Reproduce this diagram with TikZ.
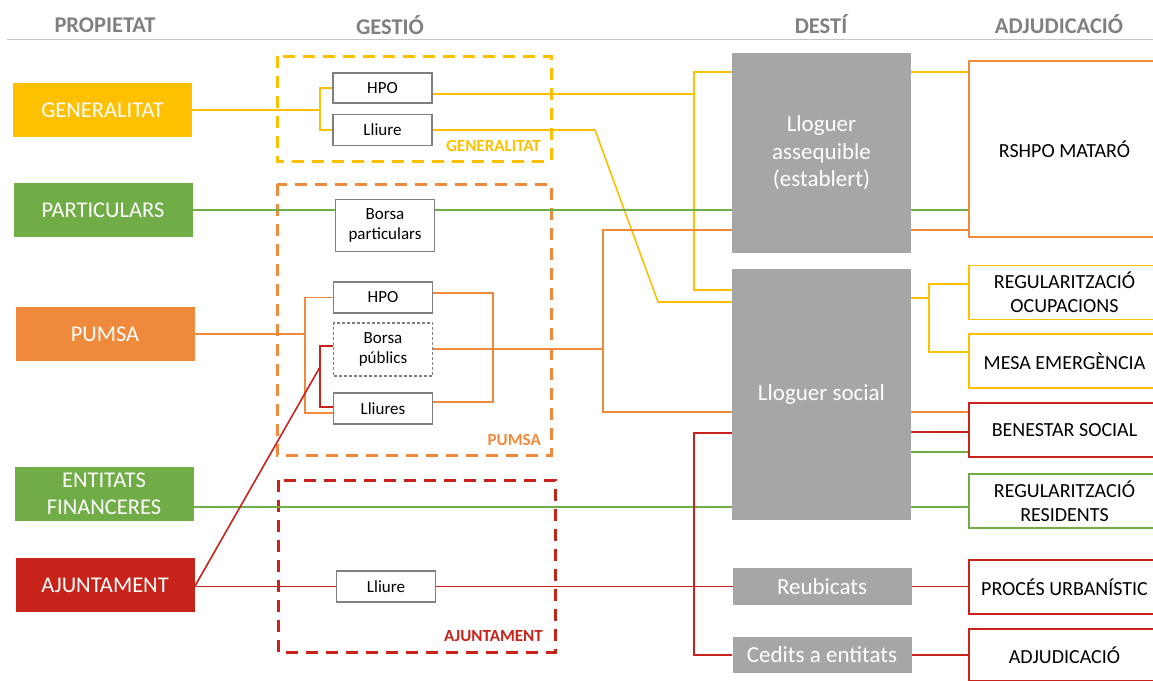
\documentclass[tikz,border=0pt]{standalone}
\usepackage{fontspec}
\setmainfont{Carlito}
\usetikzlibrary{backgrounds}
\definecolor{cgold}{HTML}{FFC000}
\definecolor{cgreen}{HTML}{70AD47}
\definecolor{corange}{HTML}{EF8A3C}
\definecolor{cred}{HTML}{C8231B}
\definecolor{destgray}{HTML}{A6A6A6}
\definecolor{boxgray}{HTML}{7F7F7F}
\definecolor{hdrgray}{HTML}{808080}
\definecolor{rulegray}{HTML}{C4C4C4}
\begin{document}
\begin{tikzpicture}[x=1pt,y=-1pt,
  hdr/.style={text=hdrgray, font=\bfseries\fontsize{22.5}{26}\selectfont, inner sep=0},
  src/.style={fill=#1, text=white, minimum width=179pt, minimum height=54pt, inner sep=0,
    font=\fontsize{22.5}{27}\selectfont, align=center},
  gbox/.style={draw=boxgray, line width=1.2pt, fill=white, minimum width=99pt,
    minimum height=31pt, inner sep=0, font=\fontsize{17}{20}\selectfont, align=center},
  dest/.style={fill=destgray, text=white, minimum width=179pt, inner sep=0,
    font=\fontsize{23}{27.5}\selectfont, align=center},
  adj/.style={draw=#1, line width=1.8pt, fill=white, minimum width=191pt,
    minimum height=54pt, inner sep=0, font=\fontsize{20}{24}\selectfont, align=center},
  grp/.style={draw=#1, line width=3pt, dash pattern=on 12pt off 8pt},
  grplabel/.style={text=#1, font=\bfseries\fontsize{17}{19}\selectfont, anchor=east, inner sep=0},
  conn/.style={draw=#1, line width=1.6pt}]
\useasboundingbox (0,0) rectangle (1153,680);
\clip (0,0) rectangle (1153,680);

% column headers
\node[hdr] (h1) at (105,25) {PROPIETAT};
\node[hdr] (h2) at (390,25) {GESTIÓ};
\node[hdr] (h3) at (821,24) {DESTÍ};
\node[hdr] (h4) at (1059,24) {ADJUDICACIÓ};
\coordinate (rl) at (7,39.5);
\coordinate (rr) at (1153,39.5);
\draw[rulegray, line width=1pt] (rl) -- (rr);

% owners
\node[src=cgold] (gen) at (102.5,110) {GENERALITAT};
\node[src=cgreen] (part) at (103,210) {PARTICULARS};
\node[src=corange] (pumsa) at (105,334) {PUMSA};
\node[src=cgreen] (ent) at (104,493.5) {ENTITATS\\FINANCERES};
\node[src=cred] (ajun) at (105,585) {AJUNTAMENT};

% management
\node[gbox, minimum height=30pt] (ghpo) at (382.5,88) {HPO};
\node[gbox] (glli) at (382.5,130) {Lliure};
\node[gbox, minimum height=52pt] (bpart) at (385,225.5) {Borsa\\particulars};
\node[gbox] (phpo) at (383,297.5) {HPO};
\node[gbox, minimum height=53pt, dash pattern=on 3pt off 2pt] (pbor) at (383,349.5) {Borsa\\públics};
\node[gbox] (plli) at (383,408.5) {Lliures};
\node[gbox] (alli) at (386,586.5) {Lliure};

% group labels
\node[grplabel=cgold] (lgen) at (541,146) {GENERALITAT};
\node[grplabel=corange] (lpum) at (541,440) {PUMSA};
\node[grplabel=cred] (laju) at (543,636) {AJUNTAMENT};

% destinations
\node[dest, minimum height=200pt] (lass) at (821.5,153) {Lloguer\\assequible\\(establert)};
\node[dest, minimum height=251pt] (lsoc) at (821.5,394.5) {Lloguer social};
\node[dest, minimum height=37pt] (reub) at (822,586.5) {Reubicats};
\node[dest, minimum height=36pt] (cedi) at (822,655) {Cedits a entitats};

% allocation
\node[adj=corange, minimum height=176pt] (rshpo) at (1064.5,149) {RSHPO MATARÓ};
\node[adj=cgold] (rocup) at (1064.5,292.5) {REGULARITZACIÓ\\OCUPACIONS};
\node[adj=cgold] (rmesa) at (1064.5,361) {MESA EMERGÈNCIA};
\node[adj=cred] (rbene) at (1064.5,430) {BENESTAR SOCIAL};
\node[adj=cgreen] (rresi) at (1064.5,501) {REGULARITZACIÓ\\RESIDENTS};
\node[adj=cred] (rproc) at (1064.5,587) {PROCÉS URBANÍSTIC};
\node[adj=cred, minimum height=52pt] (radj) at (1064.5,655) {ADJUDICACIÓ};

% junction points
\coordinate (jg) at (320,110);
\coordinate (jy) at (694,94);
\coordinate (jyt) at (694,72);
\coordinate (jyb) at (694,290);
\coordinate (ka) at (595,130);
\coordinate (kb) at (658,302);
\coordinate (jr) at (929,298);
\coordinate (jrt) at (929,284);
\coordinate (jrb) at (929,352);
\coordinate (ge) at (0,507);
\coordinate (gb) at (0,452);
\coordinate (jp) at (305,334);
\coordinate (jpb) at (305,413);
\coordinate (jq) at (493,293);
\coordinate (jqb) at (493,402);
\coordinate (jo) at (603,349);
\coordinate (jot) at (603,230);
\coordinate (job) at (603,412);
\coordinate (ra) at (0,586.5);
\coordinate (rd) at (320,367);
\coordinate (rdt) at (320,346);
\coordinate (rdb) at (320,407);
\coordinate (rvt) at (694,433);
\coordinate (rvb) at (694,655);
\coordinate (rbn) at (0,432);

\begin{pgfonlayer}{background}
  % management groups
  \draw[grp=cgold] (277,56) rectangle (551,161);
  \draw[grp=corange] (277,184) rectangle (551,455);
  \draw[grp=cred] (278,480) rectangle (555,652);

  % Generalitat (yellow)
  \draw[conn=cgold] (gen.east) -- (jg);
  \draw[conn=cgold] (ghpo.west) -| (jg) |- (glli.west);
  \draw[conn=cgold] ([yshift=-6pt]ghpo.east) -- (jy);
  \draw[conn=cgold] (jyt -| lass.west) -- (jyt) -- (jyb) -- (jyb -| lsoc.west);
  \draw[conn=cgold] (glli.east) -- (ka) -- (kb) -- (kb -| lsoc.west);
  \draw[conn=cgold] (jyt -| lass.east) -- (jyt -| rshpo.west);
  \draw[conn=cgold] (jr -| lsoc.east) -- (jr);
  \draw[conn=cgold] (jrt -| rocup.west) -- (jrt) -- (jrb) -- (jrb -| rmesa.west);

  % private owners and banks (green)
  \draw[conn=cgreen] (part.east) -- (part.east -| rshpo.west);
  \draw[conn=cgreen] (ge -| ent.east) -- (ge -| rresi.west);
  \draw[conn=cgreen] (gb -| lsoc.east) -- (gb -| rbene.west);

  % PUMSA (orange)
  \draw[conn=corange] (pumsa.east) -- (jp);
  \draw[conn=corange] (phpo.west) -| (jp) -- (jpb) -- (jpb -| plli.west);
  \draw[conn=corange] (jq -| phpo.east) -- (jq) -- (jqb) -- (jqb -| plli.east);
  \draw[conn=corange] (jo -| pbor.east) -- (jo);
  \draw[conn=corange] (jot -| lass.west) -- (jot) -- (job) -- (job -| lsoc.west);
  \draw[conn=corange] (jot -| lass.east) -- (jot -| rshpo.west);
  \draw[conn=corange] (job -| lsoc.east) -- (job -| rbene.west);

  % Ajuntament (red)
  \draw[conn=cred] (ra -| ajun.east) -- (ra -| rproc.west);
  \draw[conn=cred] (ra -| ajun.east) -- (rd);
  \draw[conn=cred] (rdt -| pbor.west) -- (rdt) -- (rdb) -- (rdb -| plli.west);
  \draw[conn=cred] (rvt -| lsoc.west) -- (rvt) -- (rvb) -- (rvb -| cedi.west);
  \draw[conn=cred] (rvb -| cedi.east) -- (rvb -| radj.west);
  \draw[conn=cred] (rbn -| lsoc.east) -- (rbn -| rbene.west);
\end{pgfonlayer}
\end{tikzpicture}
\end{document}
